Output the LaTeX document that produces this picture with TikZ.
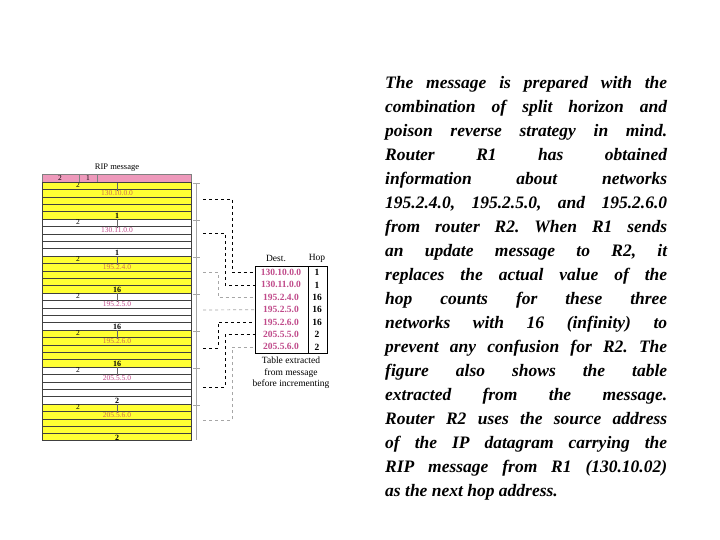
\documentclass[tikz,border=0pt]{standalone}
\usepackage{fontspec}
\setmainfont{Liberation Serif}
\frenchspacing
\begin{document}
\begin{tikzpicture}[x=1pt,y=-1pt,
  cell/.style={inner sep=0pt,font=\fontsize{7.5}{8}\selectfont},
  conn/.style={dashed,line width=0.8pt},
  connl/.style={dashed,line width=0.7pt,gray!70},
  tab/.style={inner sep=0pt,font=\fontsize{9.5}{10}\selectfont}]
\definecolor{yel}{HTML}{FFFF33}
\definecolor{pinkh}{HTML}{EE99BB}
\definecolor{addrc}{HTML}{C04A8A}
\definecolor{addry}{HTML}{D0704A}
\useasboundingbox[fill=white] (0,0) rectangle (720,540);
\node[cell,font=\fontsize{8.5}{9}\selectfont] (ripttl) at (117,168) {RIP message};
\fill[pinkh] (42,174) rectangle (191,182);
\draw[gray] (42,174) rectangle (191,182) (79,174)--(79,182) (97,174)--(97,182);
\node[cell] (h1) at (60,178) {2};
\node[cell] (h2) at (88,178) {1};
\foreach \i/\c/\a/\m/\f in {0/yel/130.10.0.0/1/addry,1/white/130.11.0.0/1/addrc,2/yel/195.2.4.0/16/addry,3/white/195.2.5.0/16/addrc,4/yel/195.2.6.0/16/addry,5/white/205.5.5.0/2/addrc,6/yel/205.5.6.0/2/addry}{
  \pgfmathsetmacro{\t}{182+37*\i}
  \fill[\c] (42,\t) rectangle (191,\t+37);
  \foreach \r in {1,...,4}{\draw[black!75,line width=0.5pt] (42,\t+7.4*\r)--(191,\t+7.4*\r);}
  \draw[black!75,line width=0.5pt] (42,\t)--(191,\t);
  \draw[black!60] (117,\t)--(117,\t+9);
  \node[cell] (f\i) at (78,\t+3.4) {2};
  \node[cell,text=\f] (a\i) at (117,\t+11.5) {\a};
  \node[cell,font=\bfseries\fontsize{8}{8}\selectfont] (m\i) at (117,\t+33.5) {\m};
  \draw[gray!70] (193,\t+1)--(200,\t+1);
}
\draw[black!75] (42,182) rectangle (191,440);
\draw[gray!70] (196,183)--(196,440);
% table
\node[tab] (dh) at (276,258) {Dest.};
\node[tab] (hh) at (317,258) {Hop};
\draw[line width=0.8pt] (255,266) rectangle (327,353) (308,266)--(308,353);
\foreach \i/\a/\h in {0/130.10.0.0/1,1/130.11.0.0/1,2/195.2.4.0/16,3/195.2.5.0/16,4/195.2.6.0/16,5/205.5.5.0/2,6/205.5.6.0/2}{
  \node[tab,text=addrc,font=\bfseries\fontsize{9.5}{10}\selectfont] (d\i) at (281,272.5+12.4*\i) {\a};
  \node[tab,font=\bfseries\fontsize{9.5}{10}\selectfont] (o\i) at (317,272.5+12.4*\i) {\h};
  \coordinate (t\i) at (255,272.5+12.4*\i);
}
\node[tab,align=center,font=\fontsize{9.5}{11.5}\selectfont] (cap) at (291,373) {Table extracted\\from message\\before incrementing};
% connectors
\coordinate (s0) at (203,199); \coordinate (s1) at (203,233); \coordinate (s2) at (203,272);
\coordinate (s3) at (203,310); \coordinate (s4) at (203,348); \coordinate (s5) at (203,387); \coordinate (s6) at (203,420);
\draw[conn] (s0) -- (232,199) |- (t0);
\draw[conn] (s1) -- (225,233) |- (t1);
\draw[connl] (s2) -- (218,272) |- (t2);
\draw[connl] (s3) -- (t3);
\draw[conn] (s4) -- (218,348) |- (t4);
\draw[conn] (s5) -- (225,387) |- (t5);
\draw[connl] (s6) -- (232,420) |- (t6);
% text
\node[anchor=north west,inner sep=0pt,text width=282pt,align=justify,font=\bfseries\itshape\fontsize{17.5}{24}\selectfont] (para) at (385,76) {%
The message is prepared with the\linebreak
combination of split horizon and\linebreak
poison reverse strategy in mind.\linebreak
Router R1 has obtained\linebreak
information about networks\linebreak
195.2.4.0, 195.2.5.0, and 195.2.6.0\linebreak
from router R2. When R1 sends\linebreak
an update message to R2, it\linebreak
replaces the actual value of the\linebreak
hop counts for these three\linebreak
networks with 16 (infinity) to\linebreak
prevent any confusion for R2. The\linebreak
figure also shows the table\linebreak
extracted from the message.\linebreak
Router R2 uses the source address\linebreak
of the IP datagram carrying the\linebreak
RIP message from R1 (130.10.02)\linebreak
as the next hop address.};
\end{tikzpicture}
\end{document}
